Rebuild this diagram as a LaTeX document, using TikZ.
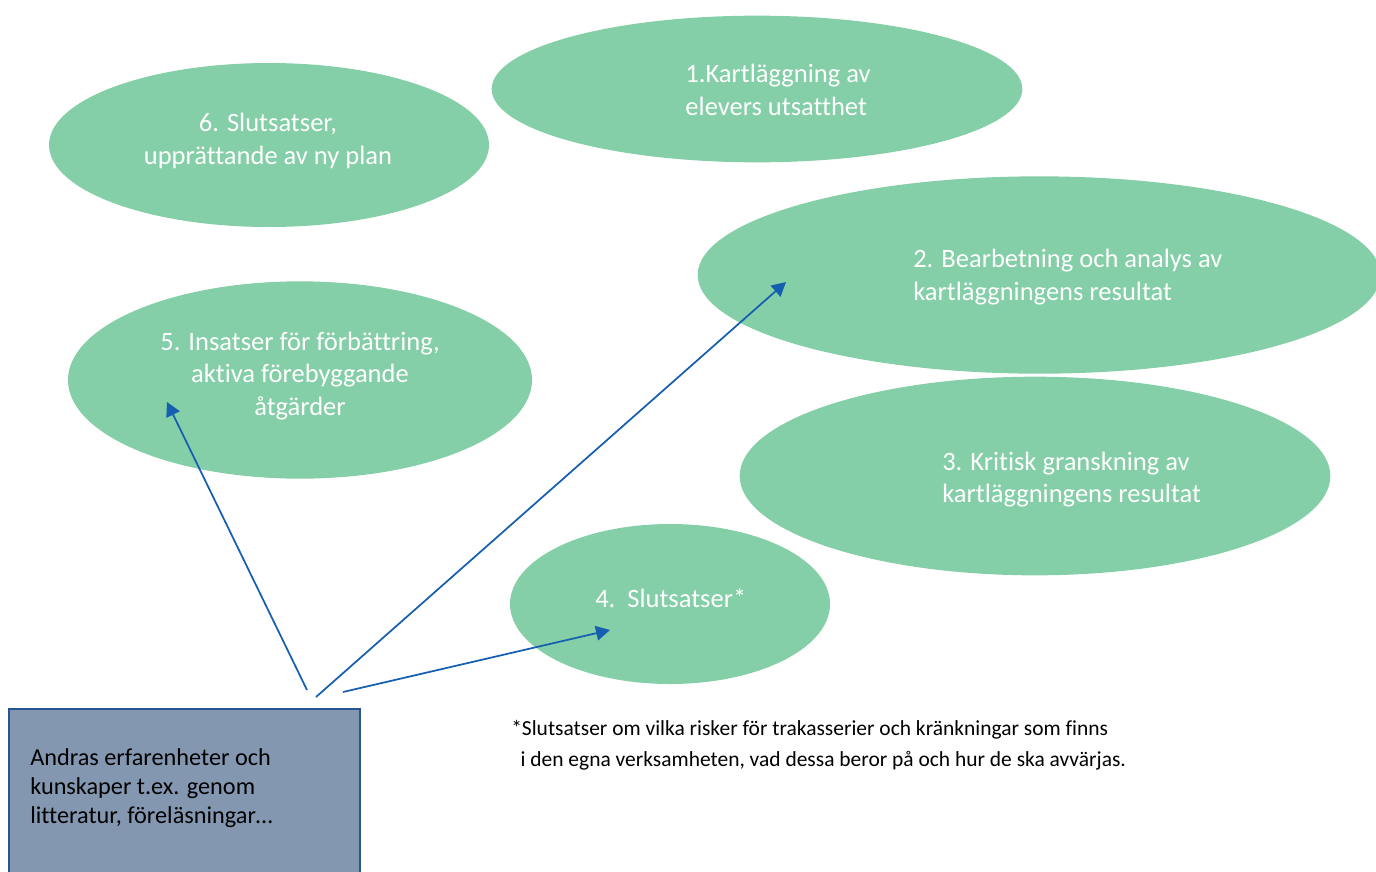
\documentclass[tikz,border=0pt]{standalone}
\usepackage{fontspec}
\setmainfont{Carlito}[Ligatures=CommonOff]
\usetikzlibrary{shapes.geometric,arrows.meta}
\definecolor{stepgreen}{RGB}{132,206,168}
\definecolor{boxblue}{RGB}{132,151,177}
\definecolor{boxline}{RGB}{38,84,146}
\definecolor{arrowblue}{RGB}{22,94,176}
\begin{document}
\begin{tikzpicture}[x=0.75pt,y=-0.75pt]
  \tikzstyle{stage}=[ellipse,fill=stepgreen,inner sep=0pt]
  \tikzstyle{stagetext}=[text=white,font=\fontsize{19.9}{24.3}\selectfont,inner sep=0pt]
  \tikzstyle{feed}=[draw=arrowblue,line width=1.3pt,-{Triangle[length=10.5pt,width=11pt]}]
  \useasboundingbox (0,0) rectangle (1376,871);

  % stages
  \node[stage,minimum width=398pt,minimum height=110pt] (s1) at (757,89) {};
  \node[stage,minimum width=330pt,minimum height=123pt] (s6) at (269,145) {};
  \node[stage,minimum width=512pt,minimum height=148pt] (s2) at (1039,275) {};
  \node[stage,minimum width=348pt,minimum height=148pt] (s5) at (300,380) {};
  \node[stage,minimum width=443pt,minimum height=149pt] (s3) at (1035,476) {};
  \node[stage,minimum width=240pt,minimum height=120pt] (s4) at (670,604) {};

  \node[stagetext,align=left] (t1) at (778,90) {1.Kartläggning av\\elevers utsatthet};
  \node[stagetext,align=center] (t6) at (268,141) {6. Slutsatser,\\upprättande av ny plan};
  \node[stagetext,align=left,anchor=west] (t2) at (913,277) {2. Bearbetning och analys av\\kartläggningens resultat};
  \node[stagetext,align=center] (t5) at (300,376) {5. Insatser för förbättring,\\aktiva förebyggande\\åtgärder};
  \node[stagetext,align=left,anchor=west] (t3) at (942,479.5) {3. Kritisk granskning av\\kartläggningens resultat};
  \node[stagetext,anchor=west] (t4) at (595,598) {4.\ \ Slutsatser*};

  % knowledge box
  \fill[boxblue] (9,709) rectangle (360,875);
  \draw[boxline,line width=1.6pt] (9,875) -- (9,709) -- (360,709) -- (360,875);
  \node[anchor=north west,align=left,inner sep=0pt,font=\fontsize{18.2}{21.8}\selectfont] (kb) at (30,748)
    {Andras erfarenheter och\\kunskaper t.ex. genom\\litteratur, föreläsningar…};

  % footnote
  \node[anchor=west,align=left,inner sep=0pt,font=\fontsize{16.1}{23.3}\selectfont] (fn) at (511,745.5)
    {*Slutsatser om vilka risker för trakasserier och kränkningar som finns\\
     \hspace*{7pt}i den egna verksamheten, vad dessa beror på och hur de ska avvärjas.};

  % arrows
  \coordinate (a5) at (307,690);
  \coordinate (a2) at (316,697);
  \coordinate (a4) at (343,692);
  \coordinate (h5) at (167,402);
  \coordinate (h2) at (786,282);
  \coordinate (h4) at (610,630);
  \draw[feed] (a5) -- (h5);
  \draw[feed] (a2) -- (h2);
  \draw[feed] (a4) -- (h4);
\end{tikzpicture}
\end{document}
